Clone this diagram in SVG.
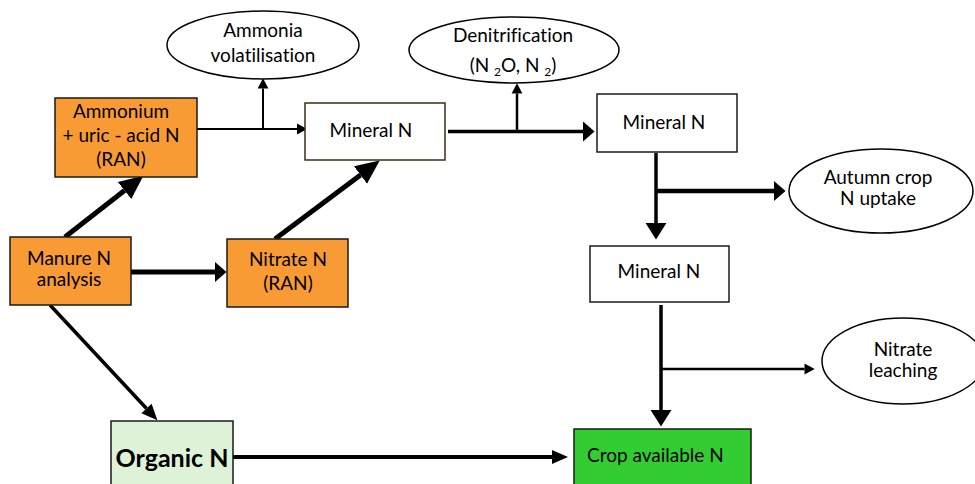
<svg xmlns="http://www.w3.org/2000/svg" width="975" height="484" viewBox="0 0 975 484">
<defs>
<style>
text{font-family:Lato,"Open Sans","Liberation Sans",sans-serif;font-size:19px;fill:#000;text-anchor:middle;font-variant-ligatures:none;font-feature-settings:"liga" 0}
.box{stroke:#1a1a1a;stroke-width:1.5}
.orange{fill:#F89B34}
.white{fill:#fff}
.ell{fill:#fff;stroke:#000;stroke-width:1.5}
.c{fill:none;stroke:#000;stroke-linecap:butt}
.sub{font-size:12px}
</style>
<marker id="hBig" markerUnits="userSpaceOnUse" markerWidth="24" markerHeight="24" viewBox="0 -11 22 22" refX="0" refY="0" orient="auto"><path d="M0,-10L22,0L0,10z" fill="#000"/></marker>
<marker id="hSm" markerUnits="userSpaceOnUse" markerWidth="12" markerHeight="12" viewBox="0 -5 9 10" refX="0" refY="0" orient="auto"><path d="M0,-4.5L8.5,0L0,4.5z" fill="#000"/></marker>
<marker id="hMed" markerUnits="userSpaceOnUse" markerWidth="14" markerHeight="22" viewBox="0 -10 11 20" refX="0" refY="0" orient="auto"><path d="M0,-9L10.5,0L0,9z" fill="#000"/></marker>
<marker id="hLong" markerUnits="userSpaceOnUse" markerWidth="18" markerHeight="22" viewBox="0 -10 16 20" refX="0" refY="0" orient="auto"><path d="M0,-9.5L15,0L0,9.5z" fill="#000"/></marker>
<marker id="hThin" markerUnits="userSpaceOnUse" markerWidth="18" markerHeight="16" viewBox="0 -8 17 16" refX="0" refY="0" orient="auto"><path d="M0,-7L16,0L0,7z" fill="#000"/></marker>
</defs>
<rect width="975" height="484" fill="#fff"/>

<g id="connectors">
<path class="c" d="M197,129H297" stroke-width="2" marker-end="url(#hSm)"/>
<path class="c" d="M263,129V88.5" stroke-width="2" marker-end="url(#hSm)"/>
<path class="c" d="M65,237L124.5,190.5" stroke-width="5" marker-end="url(#hBig)"/>
<path class="c" d="M275,239L360.5,175" stroke-width="5" marker-end="url(#hBig)"/>
<path class="c" d="M131,272H215" stroke-width="5" marker-end="url(#hMed)"/>
<path class="c" d="M448,131.5H583" stroke-width="3.5" marker-end="url(#hMed)"/>
<path class="c" d="M517,131.5V93.5" stroke-width="2.5" marker-end="url(#hSm)"/>
<path class="c" d="M656,153V223" stroke-width="3.5" marker-end="url(#hLong)"/>
<path class="c" d="M656,191H774" stroke-width="4.5" marker-end="url(#hMed)"/>
<path class="c" d="M661,305V410" stroke-width="3.5" marker-end="url(#hLong)"/>
<path class="c" d="M661,369H804.5" stroke-width="2.5" marker-end="url(#hSm)"/>
<path class="c" d="M233,457H552" stroke-width="4" marker-end="url(#hThin)"/>
<path class="c" d="M50,305L146.5,408.5" stroke-width="3.5" marker-end="url(#hThin)"/>
</g>

<g id="ammonia-volatilisation">
<ellipse class="ell" cx="263" cy="45" rx="96" ry="34"/>
<text x="263" y="37">Ammonia</text>
<text x="263" y="62">volatilisation</text>
</g>

<g id="ammonium">
<rect class="box orange" x="55" y="98" width="142" height="79"/>
<text x="121" y="118">Ammonium</text>
<text x="121" y="142">+ uric - acid N</text>
<text x="121" y="166">(RAN)</text>
</g>

<g id="mineral-n-1">
<rect class="white" x="305" y="103" width="140" height="57" stroke="#3d2e14" stroke-width="1.5"/>
<text x="371" y="137">Mineral N</text>
</g>

<g id="denitrification">
<ellipse class="ell" cx="514" cy="50" rx="105" ry="33"/>
<text x="513" y="42">Denitrification</text>
<text x="513" y="72">(N <tspan class="sub" dy="4">2</tspan><tspan dy="-4">O, N </tspan><tspan class="sub" dy="4">2</tspan><tspan dy="-4">)</tspan></text>
</g>

<g id="mineral-n-2">
<rect class="box white" x="597" y="94" width="140" height="58"/>
<text x="664" y="129">Mineral N</text>
</g>

<g id="autumn-crop">
<ellipse class="ell" cx="881" cy="191" rx="92" ry="42"/>
<text x="878" y="184">Autumn crop</text>
<text x="878" y="205">N uptake</text>
</g>

<g id="manure">
<rect class="box orange" x="10" y="237" width="121" height="68"/>
<text x="69" y="265">Manure N</text>
<text x="69" y="286">analysis</text>
</g>

<g id="nitrate-n">
<rect class="box orange" x="227" y="239" width="121" height="68"/>
<text x="288" y="266">Nitrate N</text>
<text x="288" y="290">(RAN)</text>
</g>

<g id="mineral-n-3">
<rect class="box white" x="590" y="246" width="139" height="56"/>
<text x="659" y="278">Mineral N</text>
</g>

<g id="nitrate-leaching">
<ellipse class="ell" cx="903" cy="361" rx="81" ry="43"/>
<text x="903" y="356">Nitrate</text>
<text x="903" y="377">leaching</text>
</g>

<g id="organic-n">
<rect class="box" x="111" y="421" width="122" height="70" fill="#DDF2D6"/>
<text x="172" y="467" style="font-weight:bold;font-size:25px">Organic N</text>
</g>

<g id="crop-available">
<rect class="box" x="574" y="429" width="177" height="62" fill="#33CC33"/>
<text x="587" y="462" style="text-anchor:start">Crop available N</text>
</g>
</svg>
